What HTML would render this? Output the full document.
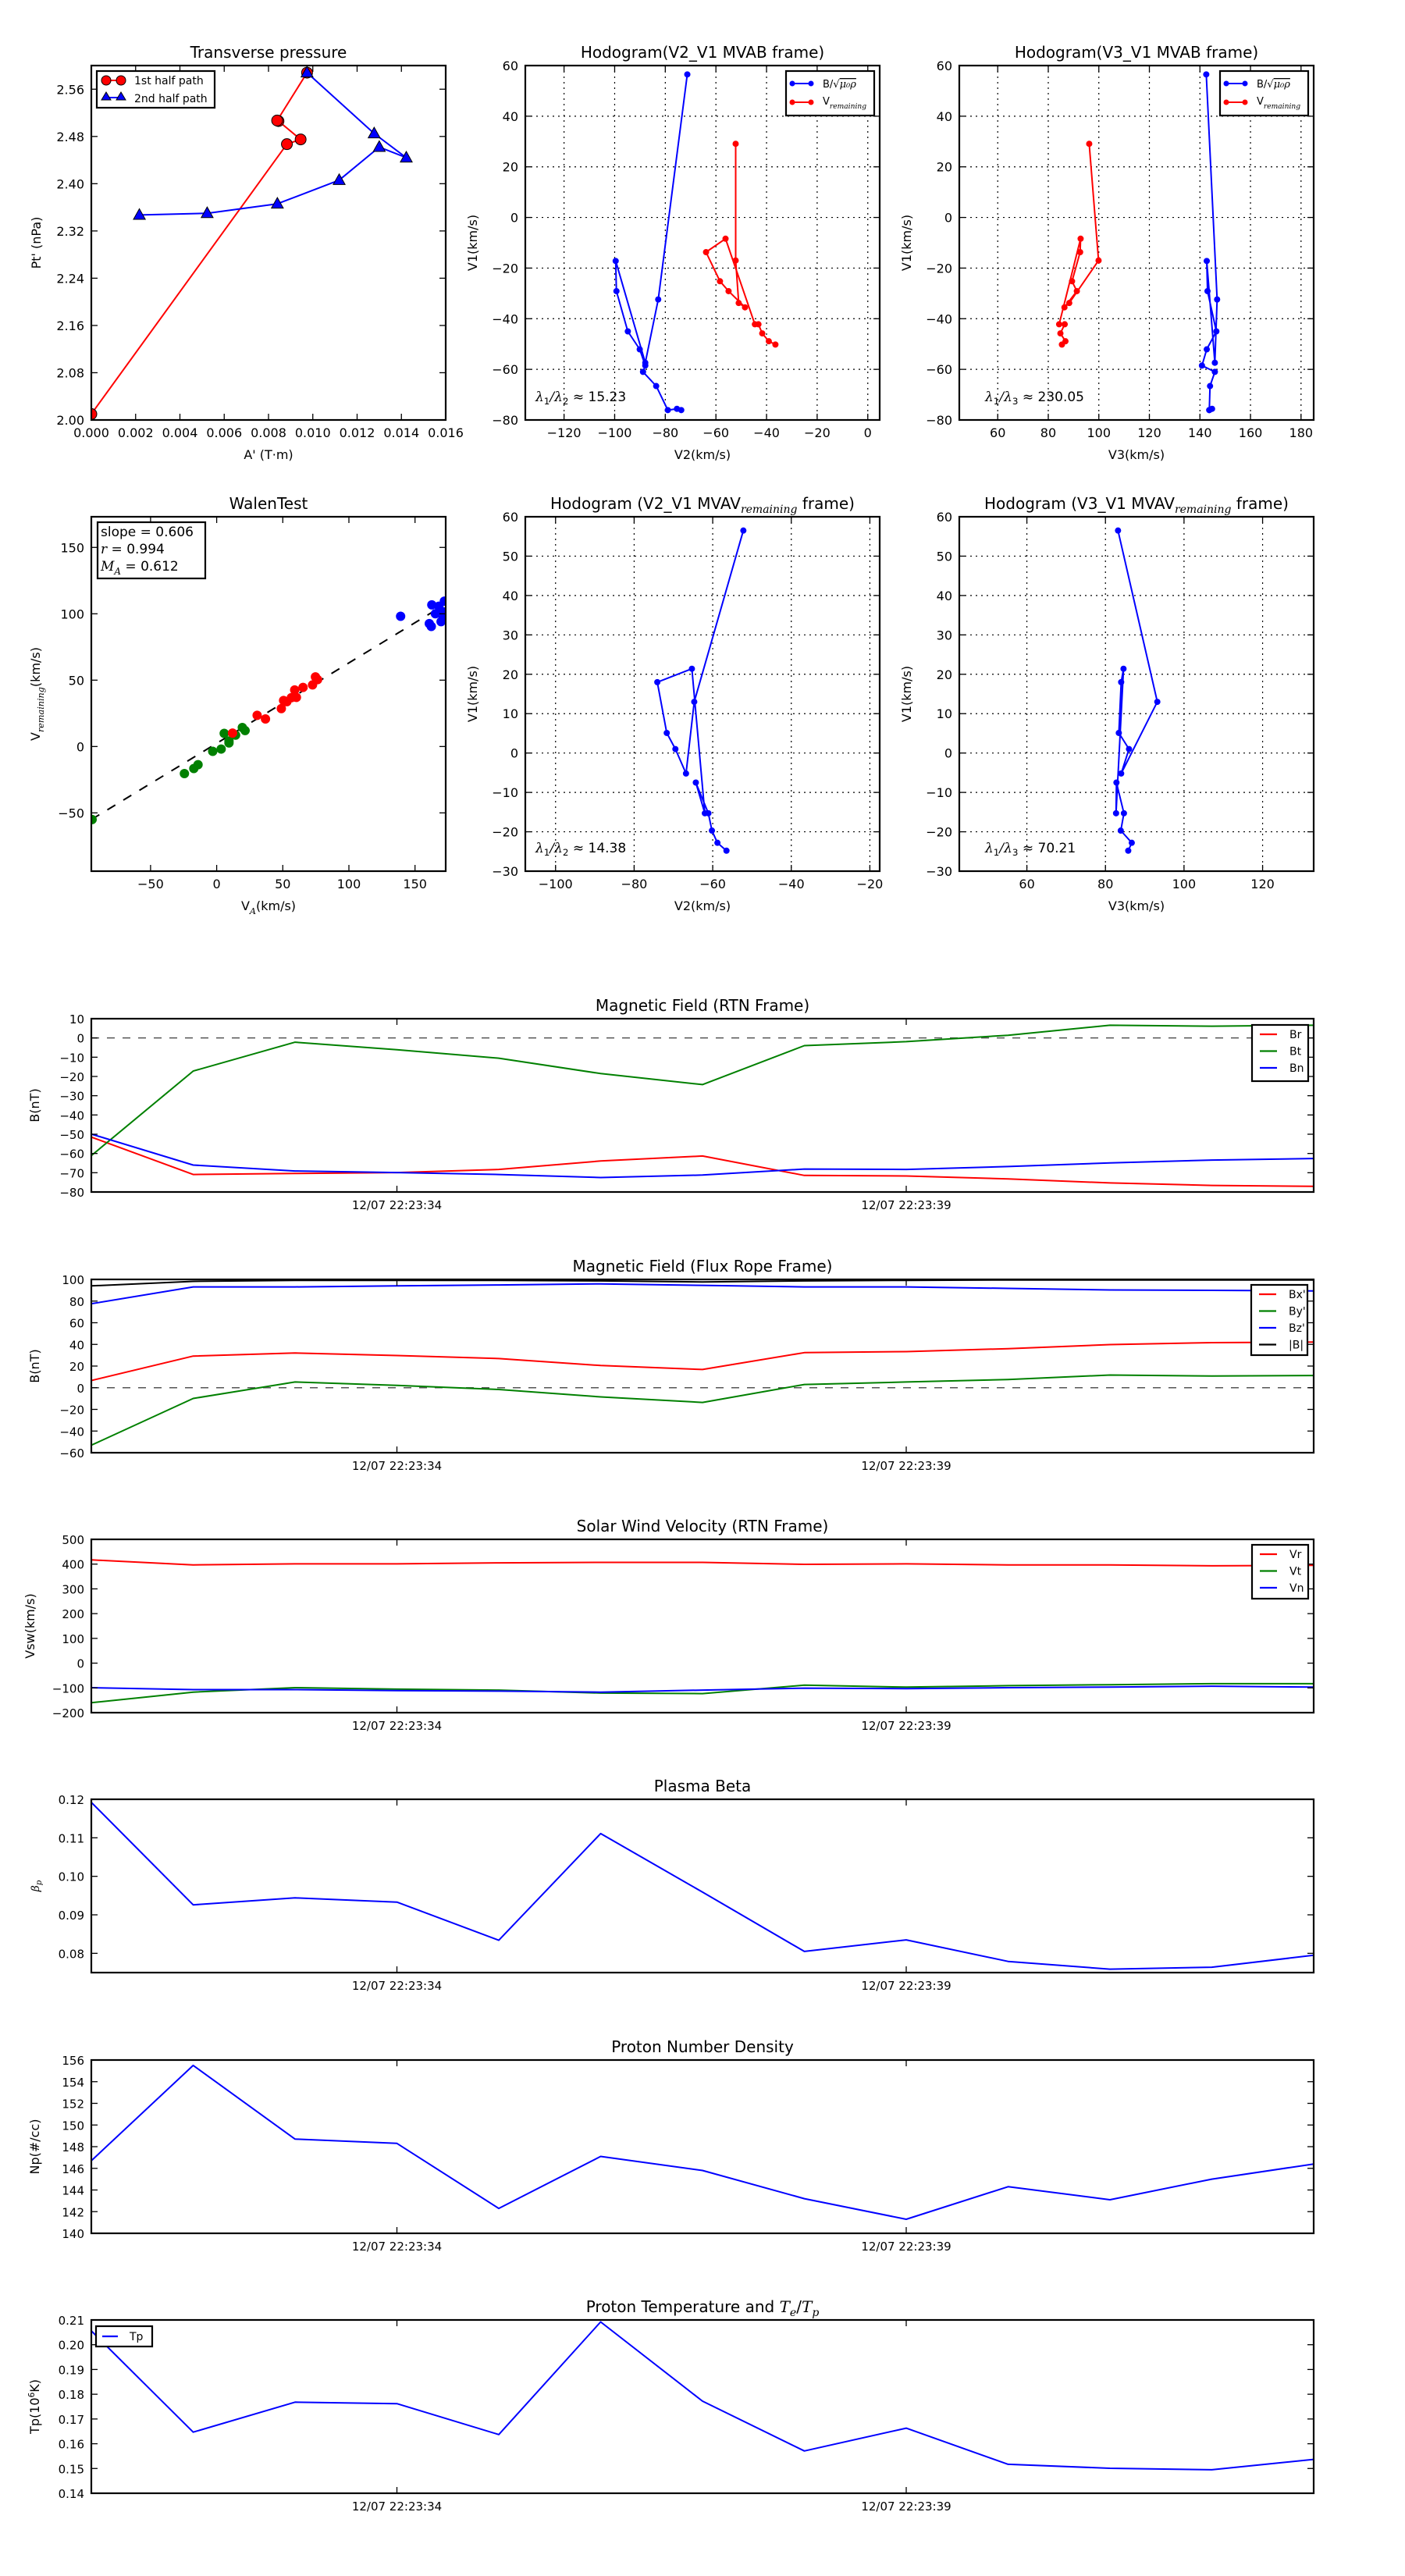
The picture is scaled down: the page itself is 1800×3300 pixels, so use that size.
<!DOCTYPE html>
<html><head><meta charset="utf-8"><title>Flux rope analysis</title>
<style>
html,body{margin:0;padding:0;background:#fff;}
svg{display:block;font-family:"DejaVu Sans","Liberation Sans",sans-serif;}
</style></head>
<body>
<svg id="fig" xmlns="http://www.w3.org/2000/svg" width="1800" height="3300" viewBox="0 0 1800 3300"></svg>
<script>
// ---------- data ----------
// Transverse pressure
const tpA1=[0.0000,0.00883,0.00945,0.00845,0.00839,0.00974];
const tpP1=[2.010,2.467,2.475,2.506,2.507,2.588];
const tpA2=[0.00974,0.01277,0.01422,0.01300,0.01119,0.00840,0.00523,0.00217];
const tpP2=[2.588,2.485,2.444,2.462,2.406,2.366,2.350,2.347];
// MVAB hodograms
const hbB_V1=[56.5,-32.4,-57.4,-17.2,-29.1,-45.0,-52.1,-58.5,-61.0,-66.6,-76.1,-75.6,-76.1];
const hbB_V2=[-71.3,-82.8,-87.9,-99.6,-99.3,-94.8,-90.1,-87.9,-88.8,-83.6,-79.0,-75.4,-73.7];
const hbB_V3=[142.5,146.8,145.9,142.7,143.0,146.5,142.7,140.8,145.9,144.0,143.7,144.8,143.7];
const hbV_V1=[29.1,-17.0,-33.8,-35.5,-29.1,-25.2,-13.7,-8.4,-42.2,-42.2,-45.8,-48.9,-50.2];
const hbV_V2=[-52.2,-52.2,-51.0,-48.5,-55.0,-58.4,-63.9,-56.2,-44.6,-43.2,-41.7,-39.1,-36.5];
const hbV_V3=[96.2,99.9,88.3,86.4,91.3,89.4,92.6,92.8,84.3,86.5,84.8,86.8,85.4];
// MVAV hodograms
const hv_V1=[56.5,13.0,-5.2,1.0,5.1,18.0,21.4,-15.3,-7.5,-15.3,-19.7,-22.8,-24.8];
const hv_V2=[-52.2,-64.7,-66.8,-69.5,-71.7,-74.1,-65.3,-62.0,-64.3,-61.1,-60.2,-58.8,-56.5];
const hv_V3=[83.2,93.2,84.0,86.0,83.4,84.0,84.6,82.7,82.8,84.7,83.9,86.7,85.8];
// Walen test
const wGreenX=[-94.2,-24.4,-17.3,-14.1,-3.0,3.4,5.7,9.3,9.3,14.3,19.4,21.5];
const wGreenY=[-55.0,-20.4,-16.6,-13.7,-3.6,-1.9,9.9,2.7,4.2,8.6,14.3,12.0];
const wRedX=[12.0,30.6,36.9,48.9,50.6,53.1,56.5,59.0,60.3,65.3,72.5,74.7,76.3];
const wRedY=[10.1,23.5,20.8,28.6,34.7,33.8,36.8,42.6,37.0,44.5,46.4,52.5,50.4];
const wBlueX=[139.1,160.8,162.3,162.7,165.4,168.0,169.7,171.1,172.2,171.3];
const wBlueY=[98.1,92.6,90.5,106.7,100.0,105.7,94.1,96.2,109.5,101.5];
const wFit=[0.606,2.4];
// time series (13 samples, 1 s apart)
const timeTicks=["12/07 22:23:34","12/07 22:23:39"];
const timeTickIdx=[3,8];
const Br=[-51.5,-70.9,-70.4,-69.9,-68.3,-63.9,-61.3,-71.4,-71.7,-73.2,-75.3,-76.6,-77.1];
const Bt=[-61.1,-17.2,-2.2,-6.1,-10.5,-18.5,-24.2,-4.0,-1.9,1.4,6.6,6.1,6.6];
const Bn=[-49.9,-66.0,-69.1,-69.9,-70.9,-72.5,-71.2,-68.1,-68.3,-66.8,-64.9,-63.4,-62.6];
const Bx=[6.7,29.2,32.0,29.7,26.9,20.5,16.8,32.4,33.3,36.1,39.8,41.6,42.1];
const By=[-53.1,-9.9,5.3,2.1,-1.6,-8.5,-13.6,3.0,5.3,7.6,11.7,10.8,11.3];
const Bz=[77.5,93.1,93.1,94.0,94.9,95.9,94.5,93.1,93.1,91.7,90.3,89.9,89.4];
const Bmag=[94.0,98.2,99.1,99.1,99.1,98.6,97.7,98.6,99.1,99.5,99.5,99.5,99.5];
const Vr=[417,397,401,401,405,407,407,399,401,397,397,393,395];
const Vt=[-160,-117,-99,-105,-109,-121,-123,-89,-97,-91,-87,-83,-83];
const Vn=[-99,-107,-107,-111,-113,-117,-109,-101,-103,-99,-97,-93,-97];
const beta=[0.1192,0.0926,0.0944,0.0933,0.0834,0.1111,0.0959,0.0805,0.0835,0.0779,0.0759,0.0764,0.0795];
const Np=[146.7,155.5,148.7,148.3,142.3,147.1,145.8,143.2,141.3,144.3,143.1,145.0,146.4];
const Tp=[0.2056,0.1647,0.1768,0.1762,0.1637,0.2092,0.1772,0.1571,0.1663,0.1517,0.1501,0.1495,0.1537];

// ---------- helpers ----------
const NS='http://www.w3.org/2000/svg';
const svg=document.getElementById('fig');
const defs=document.createElementNS(NS,'defs');
svg.appendChild(defs);
let clipN=0;
function mk(tag,attrs,parent,name,inter){
  const e=document.createElementNS(NS,tag);
  for(const k in attrs) e.setAttribute(k,attrs[k]);
  
  
  parent.appendChild(e);
  return e;
}
function txt(parent,x,y,s,size,anchor,name,extra){
  const a={x:x,y:y,'font-size':size,'text-anchor':anchor||'middle',fill:'#000'};
  if(extra) for(const k in extra) a[k]=extra[k];
  const t=mk('text',a,parent,name,false);
  t.textContent=s;
  return t;
}
function fmt(v,d){const s=Math.abs(v).toFixed(d);return (v<-1e-9?'\u2212':'')+s;}
function range(a,b,s){const r=[];for(let v=a;v<=b+s*1e-6;v+=s)r.push(+v.toFixed(6));return r;}

function axes(o){
  const g=mk('g',{},svg,o.name,false);
  const sx=v=>o.x0+(v-o.xlim[0])/(o.xlim[1]-o.xlim[0])*(o.x1-o.x0);
  const sy=v=>o.y1-(v-o.ylim[0])/(o.ylim[1]-o.ylim[0])*(o.y1-o.y0);
  const grid=mk('g',{},g,'grid',false);
  if(o.grid){
    o.xticks.forEach(v=>{const X=sx(v);mk('line',{x1:X,x2:X,y1:o.y0,y2:o.y1,stroke:'#000','stroke-width':1.2,'stroke-dasharray':'2,5'},grid,'grid-line-x',false);});
    o.yticks.forEach(v=>{const Y=sy(v);mk('line',{x1:o.x0,x2:o.x1,y1:Y,y2:Y,stroke:'#000','stroke-width':1.2,'stroke-dasharray':'2,5'},grid,'grid-line-y',false);});
  }
  const cid='clip'+(clipN++);
  const cp=mk('clipPath',{id:cid},defs,'clip-region',false);
  mk('rect',{x:o.x0,y:o.y0,width:o.x1-o.x0,height:o.y1-o.y0},cp,'clip-rect',false);
  const data=mk('g',{'clip-path':'url(#'+cid+')'},g,'plot-area',false);
  const fr=mk('g',{},g,'axes-frame',false);
  const tl=8;
  const xt=mk('g',{},fr,'x-axis',false);
  o.xticks.forEach((v,i)=>{const X=sx(v);
    mk('line',{x1:X,x2:X,y1:o.y1,y2:o.y1-tl,stroke:'#000','stroke-width':1.3},xt,'x-tick',false);
    mk('line',{x1:X,x2:X,y1:o.y0,y2:o.y0+tl,stroke:'#000','stroke-width':1.3},xt,'x-tick-top',false);
    txt(xt,X,o.y1+22,o.xlabels?o.xlabels[i]:fmt(v,o.xd),o.tfs||16,'middle','x-tick-label');
  });
  const yt=mk('g',{},fr,'y-axis',false);
  o.yticks.forEach(v=>{const Y=sy(v);
    mk('line',{x1:o.x0,x2:o.x0+tl,y1:Y,y2:Y,stroke:'#000','stroke-width':1.3},yt,'y-tick',false);
    mk('line',{x1:o.x1,x2:o.x1-tl,y1:Y,y2:Y,stroke:'#000','stroke-width':1.3},yt,'y-tick-right',false);
    txt(yt,o.x0-9,Y+6,fmt(v,o.yd),o.tfs||16,'end','y-tick-label');
  });
  mk('rect',{x:o.x0,y:o.y0,width:o.x1-o.x0,height:o.y1-o.y0,fill:'none',stroke:'#000','stroke-width':2.2},fr,'axes-border',false);
  if(o.title){const t=txt(g,(o.x0+o.x1)/2,o.y0-10,'',20,'middle','chart-title');o.title(t);}
  if(o.xlabel){const t=txt(g,(o.x0+o.x1)/2,o.y1+50,'',16,'middle','x-axis-title');o.xlabel(t);}
  if(o.ylabel){const cy=(o.y0+o.y1)/2;const t=txt(g,o.ylx,cy,'',16,'middle','y-axis-title',{transform:'rotate(-90 '+o.ylx+' '+cy+')'});o.ylabel(t);}
  return {sx,sy,data,g,fr};
}
function span(t,s,attrs,name){const e=mk('tspan',attrs||{},t,name||'text-part',false);e.textContent=s;return e;}
function plain(s){return t=>{t.textContent=s;};}
const SUB={'font-family':'"DejaVu Serif","Liberation Serif",serif','font-style':'italic','font-size':'0.7em','dy':'5'};
function line(ax,xs,ys,color,w,name){
  const d=xs.map((x,i)=>(i?'L':'M')+ax.sx(x).toFixed(1)+','+ax.sy(ys[i]).toFixed(1)).join(' ');
  return mk('path',{d:d,fill:'none',stroke:color,'stroke-width':w,'stroke-linejoin':'round'},ax.data,name,false);
}
function dots(ax,xs,ys,color,r,name,stroke){
  xs.forEach((x,i)=>{mk('circle',{cx:ax.sx(x),cy:ax.sy(ys[i]),r:r,fill:color,stroke:stroke||color,'stroke-width':1},ax.data,name,false);});
}
function tris(ax,xs,ys,color,s,name){
  xs.forEach((x,i)=>{const X=ax.sx(x),Y=ax.sy(ys[i]);
    mk('path',{d:`M${X},${Y-s} L${X+s*0.95},${Y+s*0.7} L${X-s*0.95},${Y+s*0.7} Z`,fill:color,stroke:'#000','stroke-width':1},ax.data,name,false);});
}
function legendBox(parent,x,y,w,h,name){
  const g=mk('g',{},parent,name,false);
  mk('rect',{x:x,y:y,width:w,height:h,fill:'#fff',stroke:'#000','stroke-width':2.2},g,'legend-frame',false);
  return g;
}

// ---------- Row 1 ----------
const R1={y0:84,y1:538};
const ax1=axes({name:'transverse-pressure-chart',x0:117,x1:571,y0:R1.y0,y1:R1.y1,xlim:[0,0.016],ylim:[2.0,2.6],
  xticks:range(0,0.016,0.002),yticks:range(2.0,2.56,0.08),xd:3,yd:2,ylx:52,
  title:plain('Transverse pressure'),xlabel:plain("A' (T\u00b7m)"),ylabel:plain("Pt' (nPa)")});
line(ax1,tpA1,tpP1,'#ff0000',2,'first-half-path-line');
line(ax1,tpA2,tpP2,'#0000ff',2,'second-half-path-line');
dots(ax1,tpA1,tpP1,'#ff0000',7,'first-half-point','#000');
tris(ax1,tpA2,tpP2,'#0000ff',8,'second-half-point');
{const lg=legendBox(ax1.fr,124,91,151,47,'pressure-legend');
 mk('line',{x1:136,x2:155,y1:103,y2:103,stroke:'#f00','stroke-width':2},lg,'legend-line',false);
 mk('circle',{cx:136,cy:103,r:6,fill:'#f00',stroke:'#000'},lg,'legend-marker',false);
 mk('circle',{cx:155,cy:103,r:6,fill:'#f00',stroke:'#000'},lg,'legend-marker',false);
 txt(lg,172,108,'1st half path',14,'start','legend-entry');
 mk('line',{x1:136,x2:155,y1:125,y2:125,stroke:'#00f','stroke-width':2},lg,'legend-line',false);
 mk('path',{d:'M136,118 L142,128 L130,128 Z',fill:'#00f',stroke:'#000'},lg,'legend-marker',false);
 mk('path',{d:'M155,118 L161,128 L149,128 Z',fill:'#00f',stroke:'#000'},lg,'legend-marker',false);
 txt(lg,172,131,'2nd half path',14,'start','legend-entry');}

function hodoLegend(ax,x){
  const lg=legendBox(ax.fr,x,91,113,57,'hodogram-legend');
  mk('line',{x1:x+8,x2:x+32,y1:107,y2:107,stroke:'#00f','stroke-width':2},lg,'legend-line',false);
  mk('circle',{cx:x+8,cy:107,r:3.5,fill:'#00f'},lg,'legend-marker',false);
  mk('circle',{cx:x+32,cy:107,r:3.5,fill:'#00f'},lg,'legend-marker',false);
  const t1=txt(lg,x+47,112,'',13,'start','legend-entry');
  span(t1,'B/\u221a');span(t1,'\u03bc\u2080\u03c1',{'font-family':'"DejaVu Serif",serif','font-style':'italic','text-decoration':'overline'});
  mk('line',{x1:x+8,x2:x+32,y1:131,y2:131,stroke:'#f00','stroke-width':2},lg,'legend-line',false);
  mk('circle',{cx:x+8,cy:131,r:3.5,fill:'#f00'},lg,'legend-marker',false);
  mk('circle',{cx:x+32,cy:131,r:3.5,fill:'#f00'},lg,'legend-marker',false);
  const t2=txt(lg,x+47,134,'',13,'start','legend-entry');
  span(t2,'V');span(t2,'remaining',SUB);
}
function ratio(ax,x,y,a,b,val){
  const t=txt(ax.fr,x,y,'',17,'start','eigenvalue-ratio');
  span(t,'\u03bb',{'font-family':'"DejaVu Serif",serif','font-style':'italic'});
  span(t,'1',{'font-size':'0.7em','dy':'4'});
  span(t,'/\u03bb',{'font-family':'"DejaVu Serif",serif','font-style':'italic','dy':'-4'});
  span(t,b,{'font-size':'0.7em','dy':'4'});
  span(t,' \u2248 '+val,{'dy':'-4'});
}
const ax2=axes({name:'hodogram-v2-v1-mvab',x0:673,x1:1127,y0:R1.y0,y1:R1.y1,xlim:[-135.3,4.7],ylim:[-80,60],grid:true,
  xticks:range(-120,0,20),yticks:range(-80,60,20),xd:0,yd:0,ylx:611,
  title:plain('Hodogram(V2_V1 MVAB frame)'),xlabel:plain('V2(km/s)'),ylabel:plain('V1(km/s)')});
line(ax2,hbB_V2,hbB_V1,'#0000ff',2,'b-hodogram-line');
dots(ax2,hbB_V2,hbB_V1,'#0000ff',3.5,'b-hodogram-point');
line(ax2,hbV_V2,hbV_V1,'#ff0000',2,'v-hodogram-line');
dots(ax2,hbV_V2,hbV_V1,'#ff0000',3.5,'v-hodogram-point');
hodoLegend(ax2,1007);
ratio(ax2,686,514,'1','2','15.23');

const ax3=axes({name:'hodogram-v3-v1-mvab',x0:1229,x1:1683,y0:R1.y0,y1:R1.y1,xlim:[44.8,185],ylim:[-80,60],grid:true,
  xticks:range(60,180,20),yticks:range(-80,60,20),xd:0,yd:0,ylx:1167,
  title:plain('Hodogram(V3_V1 MVAB frame)'),xlabel:plain('V3(km/s)'),ylabel:plain('V1(km/s)')});
line(ax3,hbB_V3,hbB_V1,'#0000ff',2,'b-hodogram-line');
dots(ax3,hbB_V3,hbB_V1,'#0000ff',3.5,'b-hodogram-point');
line(ax3,hbV_V3,hbV_V1,'#ff0000',2,'v-hodogram-line');
dots(ax3,hbV_V3,hbV_V1,'#ff0000',3.5,'v-hodogram-point');
hodoLegend(ax3,1563);
ratio(ax3,1262,514,'1','3','230.05');

// ---------- Row 2 ----------
const R2={y0:662,y1:1116};
const ax4=axes({name:'walen-test-chart',x0:117,x1:571,y0:R2.y0,y1:R2.y1,xlim:[-94.8,173.2],ylim:[-93.9,173.1],
  xticks:range(-50,150,50),yticks:range(-50,150,50),xd:0,yd:0,ylx:51,
  title:plain('WalenTest'),
  xlabel:t=>{span(t,'V');span(t,'A',SUB);span(t,'(km/s)',{dy:'-5'});},
  ylabel:t=>{span(t,'V');span(t,'remaining',SUB);span(t,'(km/s)',{dy:'-5'});}});
{const fx=[ax4.sx.call?-94.8:0,173.2];
 const xs=[-94.8,173.2];const ys=xs.map(x=>wFit[0]*x+wFit[1]);
 mk('line',{x1:ax4.sx(xs[0]),y1:ax4.sy(ys[0]),x2:ax4.sx(xs[1]),y2:ax4.sy(ys[1]),stroke:'#000','stroke-width':2,'stroke-dasharray':'12,12'},ax4.data,'fit-line',false);}
dots(ax4,wGreenX,wGreenY,'#008000',5.5,'walen-point-green');
dots(ax4,wRedX,wRedY,'#ff0000',5.5,'walen-point-red');
dots(ax4,wBlueX,wBlueY,'#0000ff',5.5,'walen-point-blue');
{const lg=legendBox(ax4.fr,125,669,138,72,'walen-stats-box');
 txt(lg,129,687,'slope = 0.606',17,'start','slope-text');
 const t2=txt(lg,129,709,'',17,'start','r-text');span(t2,'r',{'font-family':'"DejaVu Serif",serif','font-style':'italic'});span(t2,' = 0.994');
 const t3=txt(lg,129,731,'',17,'start','ma-text');span(t3,'M',{'font-family':'"DejaVu Serif",serif','font-style':'italic'});span(t3,'A',SUB);span(t3,' = 0.612',{dy:'-5'});}

function mvavTitle(a){return t=>{span(t,'Hodogram ('+a+' MVAV');span(t,'remaining',SUB);span(t,' frame)',{dy:'-5'});};}
const ax5=axes({name:'hodogram-v2-v1-mvav',x0:673,x1:1127,y0:R2.y0,y1:R2.y1,xlim:[-107.7,-17.5],ylim:[-30,60],grid:true,
  xticks:range(-100,-20,20),yticks:range(-30,60,10),xd:0,yd:0,ylx:611,
  title:mvavTitle('V2_V1'),xlabel:plain('V2(km/s)'),ylabel:plain('V1(km/s)')});
line(ax5,hv_V2,hv_V1,'#0000ff',2,'hodogram-line');
dots(ax5,hv_V2,hv_V1,'#0000ff',3.5,'hodogram-point');
ratio(ax5,686,1092,'1','2','14.38');

const ax6=axes({name:'hodogram-v3-v1-mvav',x0:1229,x1:1683,y0:R2.y0,y1:R2.y1,xlim:[42.8,133],ylim:[-30,60],grid:true,
  xticks:range(60,120,20),yticks:range(-30,60,10),xd:0,yd:0,ylx:1167,
  title:mvavTitle('V3_V1'),xlabel:plain('V3(km/s)'),ylabel:plain('V1(km/s)')});
line(ax6,hv_V3,hv_V1,'#0000ff',2,'hodogram-line');
dots(ax6,hv_V3,hv_V1,'#0000ff',3.5,'hodogram-point');
ratio(ax6,1262,1092,'1','3','70.21');

// ---------- time series ----------
const idx=Br.map((_,i)=>i);
function ts(o){
  return axes({name:o.name,x0:117,x1:1683,y0:o.y0,y1:o.y0+222,xlim:[0,12],ylim:o.ylim,
    xticks:timeTickIdx,xlabels:timeTicks,yticks:o.yticks,xd:0,yd:o.yd,ylx:o.ylx||50,tfs:15,
    title:o.title,ylabel:o.ylabel});
}
function zero(ax){mk('line',{x1:117,x2:1683,y1:ax.sy(0),y2:ax.sy(0),stroke:'#555','stroke-width':1.5,'stroke-dasharray':'10,10'},ax.data,'zero-line',false);}
function tsLegend(ax,x,y,h,names,colors,name){
  const lg=legendBox(ax.fr,x,y,72,h,name);
  names.forEach((n,i)=>{const Y=y+12+i*21.5;
    mk('line',{x1:x+10,x2:x+32,y1:Y,y2:Y,stroke:colors[i],'stroke-width':2.2},lg,'legend-line',false);
    txt(lg,x+48,Y+5,n,14,'start','legend-entry');});
}
const t1=ts({name:'magnetic-field-rtn-chart',y0:1305,ylim:[-80,10],yticks:range(-80,10,10),yd:0,
  title:plain('Magnetic Field (RTN Frame)'),ylabel:plain('B(nT)')});
zero(t1);
line(t1,idx,Br,'#ff0000',2,'br-line');line(t1,idx,Bt,'#008000',2,'bt-line');line(t1,idx,Bn,'#0000ff',2,'bn-line');
tsLegend(t1,1604,1313,72,['Br','Bt','Bn'],['#f00','#008000','#00f'],'rtn-legend');

const t2=ts({name:'magnetic-field-flux-rope-chart',y0:1639,ylim:[-60,100],yticks:range(-60,100,20),yd:0,
  title:plain('Magnetic Field (Flux Rope Frame)'),ylabel:plain('B(nT)')});
zero(t2);
line(t2,idx,Bx,'#ff0000',2,'bx-line');line(t2,idx,By,'#008000',2,'by-line');line(t2,idx,Bz,'#0000ff',2,'bz-line');line(t2,idx,Bmag,'#000000',2,'bmag-line');
tsLegend(t2,1603,1646,90,["Bx'","By'","Bz'",'|B|'],['#f00','#008000','#00f','#000'],'flux-rope-legend');

const t3=ts({name:'solar-wind-velocity-chart',y0:1972,ylim:[-200,500],yticks:range(-200,500,100),yd:0,ylx:44,
  title:plain('Solar Wind Velocity (RTN Frame)'),ylabel:plain('Vsw(km/s)')});
line(t3,idx,Vr,'#ff0000',2,'vr-line');line(t3,idx,Vt,'#008000',2,'vt-line');line(t3,idx,Vn,'#0000ff',2,'vn-line');
tsLegend(t3,1604,1979,69,['Vr','Vt','Vn'],['#f00','#008000','#00f'],'velocity-legend');

const t4=ts({name:'plasma-beta-chart',y0:2305,ylim:[0.075,0.12],yticks:range(0.08,0.12,0.01),yd:2,
  title:plain('Plasma Beta'),
  ylabel:t=>{span(t,'\u03b2',{'font-family':'"DejaVu Serif",serif','font-style':'italic','font-size':'14'});span(t,'p',{'font-family':'"DejaVu Serif",serif','font-style':'italic','font-size':'10','dy':'3'});}});
line(t4,idx,beta,'#0000ff',2,'beta-line');

const t5=ts({name:'proton-density-chart',y0:2639,ylim:[140,156],yticks:range(140,156,2),yd:0,
  title:plain('Proton Number Density'),ylabel:plain('Np(#/cc)')});
line(t5,idx,Np,'#0000ff',2,'density-line');

const t6=ts({name:'proton-temperature-chart',y0:2972,ylim:[0.14,0.21],yticks:range(0.14,0.21,0.01),yd:2,
  title:t=>{span(t,'Proton Temperature and ');span(t,'T',{'font-family':'"DejaVu Serif",serif','font-style':'italic'});span(t,'e',SUB);span(t,'/',{dy:'-5'});span(t,'T',{'font-family':'"DejaVu Serif",serif','font-style':'italic'});span(t,'p',SUB);},
  ylabel:t=>{span(t,'Tp(10');span(t,'6',{'font-size':'0.65em','dy':'-6'});span(t,'K)',{dy:'6'});}});
line(t6,idx,Tp,'#0000ff',2,'temperature-line');
{const lg=legendBox(t6.fr,123,2980,72,26,'temperature-legend');
 mk('line',{x1:131,x2:151,y1:2993,y2:2993,stroke:'#00f','stroke-width':2.2},lg,'legend-line',false);
 txt(lg,166,2998,'Tp',14,'start','legend-entry');}
</script>
</body></html>
